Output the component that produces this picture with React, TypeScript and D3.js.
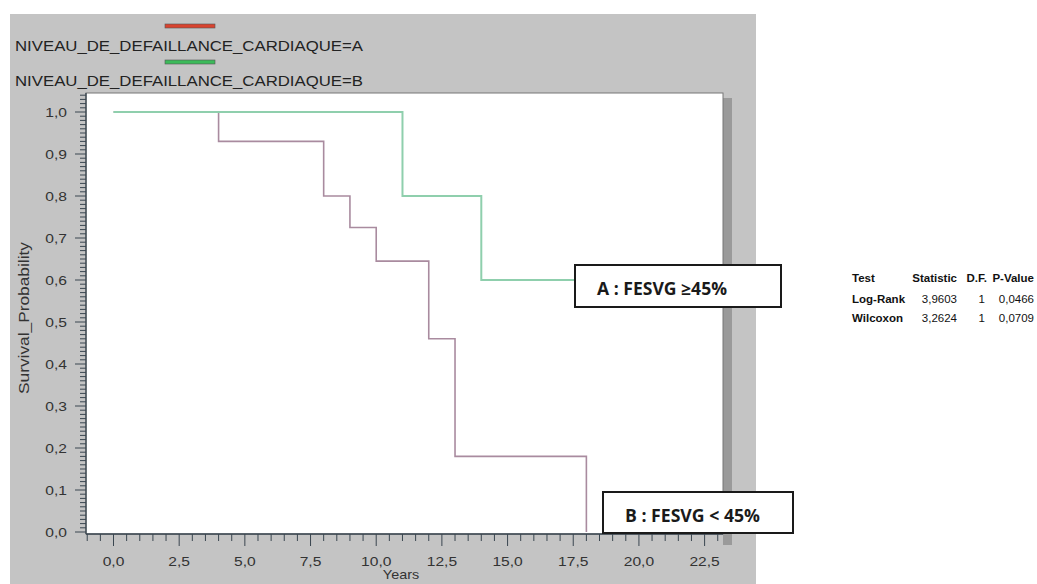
import React from 'react';
import * as d3 from 'd3';

// survival curves (time in years, probability)
const timesA = [0, 4, 8, 9, 10, 12, 13, 18, 18];
const survA = [1.0, 0.93, 0.8, 0.725, 0.645, 0.46, 0.18, 0.0, 0.0];
const timesB = [0, 11, 14, 18];
const survB = [1.0, 0.8, 0.6, 0.6];

const xTickLabels = ['0,0', '2,5', '5,0', '7,5', '10,0', '12,5', '15,0', '17,5', '20,0', '22,5'];
const yTickLabels = ['0,0', '0,1', '0,2', '0,3', '0,4', '0,5', '0,6', '0,7', '0,8', '0,9', '1,0'];

const legendLabels = ['NIVEAU_DE_DEFAILLANCE_CARDIAQUE=A', 'NIVEAU_DE_DEFAILLANCE_CARDIAQUE=B'];
const legendColors = ['#d8432f', '#3cba5a'];

const statHeader = ['Test', 'Statistic', 'D.F.', 'P-Value'];
const statTests = ['Log-Rank', 'Wilcoxon'];
const statValues = ['3,9603', '3,2624'];
const statDf = ['1', '1'];
const statP = ['0,0466', '0,0709'];

export default function App() {
  const width = 1037;
  const height = 584;
  const plot = { left: 86, right: 723, top: 93, bottom: 534 };

  const x = d3.scaleLinear().domain([0, 22.5]).range([113.5, 704.6]);
  const y = d3.scaleLinear().domain([0, 1]).range([532, 112]);

  const line = d3
    .line<[number, number]>()
    .x((d) => x(d[0]))
    .y((d) => y(d[1]))
    .curve(d3.curveStepAfter);

  const ptsA = timesA.map((t, i) => [t, survA[i]] as [number, number]);
  const ptsB = timesB.map((t, i) => [t, survB[i]] as [number, number]);

  const xMinor = d3.range(-2, 47).map((k) => k * 0.5);
  const yMinor = d3.range(0, 105).map((k) => k / 100);

  const font = '"Liberation Sans", Arial, sans-serif';
  const axisColor = '#3a4650';

  return (
    <svg width={width} height={height} style={{ position: 'absolute', left: 0, top: 0 }}>
      <rect x={0} y={0} width={width} height={height} fill="#fff" />
      {/* gray SAS background */}
      <rect x={10} y={14} width={746} height={height - 14} fill="#c4c4c4" />
      {/* plot shadow */}
      <rect x={plot.right} y={plot.top + 5} width={9} height={plot.bottom - plot.top + 6} fill="#9a9a9a" />
      <rect x={plot.left} y={plot.top} width={plot.right - plot.left} height={plot.bottom - plot.top} fill="#fff" stroke="#777" strokeWidth={1} />

      {/* legend */}
      {legendLabels.map((lab, i) => (
        <g key={lab}>
          <rect x={165} y={24 + i * 36} width={50} height={4} fill={legendColors[i]} stroke="#555" strokeWidth={0.6} />
          <text x={15} y={51 + i * 35} fontFamily={font} fontSize={14} fill="#222" textLength={348} lengthAdjust="spacingAndGlyphs">
            {lab}
          </text>
        </g>
      ))}

      {/* curves */}
      <path d={line(ptsA) || ''} fill="none" stroke="#a98b9f" strokeWidth={1.6} />
      <path d={line(ptsB) || ''} fill="none" stroke="#8fcfad" strokeWidth={2} />

      {/* y axis */}
      <line x1={plot.left} x2={plot.left} y1={plot.top} y2={plot.bottom} stroke={axisColor} strokeWidth={1.3} />
      {yMinor.map((v, i) => (
        <line key={'ym' + i} x1={plot.left - (i % 10 === 0 ? 11 : 6)} x2={plot.left} y1={y(v)} y2={y(v)} stroke={axisColor} strokeWidth={1} />
      ))}
      {yTickLabels.map((lab, i) => (
        <text key={'yl' + i} transform={`translate(67,${y(i / 10) + 5}) scale(1.2,1)`} textAnchor="end" fontFamily={font} fontSize={13} fill="#333">
          {lab}
        </text>
      ))}
      <text transform="translate(29,318) rotate(-90)" textAnchor="middle" fontFamily={font} fontSize={14} fill="#333" textLength={152} lengthAdjust="spacingAndGlyphs">
        Survival_Probability
      </text>

      {/* x axis */}
      <line x1={plot.left} x2={plot.right} y1={plot.bottom} y2={plot.bottom} stroke={axisColor} strokeWidth={1.3} />
      {xMinor.map((v, i) => (
        <line key={'xm' + i} x1={x(v)} x2={x(v)} y1={plot.bottom} y2={plot.bottom + (Math.abs(v % 2.5) < 1e-9 ? 12 : 7)} stroke={axisColor} strokeWidth={1} />
      ))}
      {xTickLabels.map((lab, i) => (
        <text key={'xl' + i} transform={`translate(${x(i * 2.5)},566) scale(1.2,1)`} textAnchor="middle" fontFamily={font} fontSize={13} fill="#333">
          {lab}
        </text>
      ))}
      <text transform="translate(401,579) scale(1.2,1)" textAnchor="middle" fontFamily={font} fontSize={12} fill="#333">
        Years
      </text>

      {/* annotation boxes */}
      <rect x={575} y={265} width={206} height={42} fill="#fff" stroke="#1a1a1a" strokeWidth={2} />
      <text x={597} y={295} fontFamily='"Open Sans", sans-serif' fontWeight="bold" fontSize={17} fill="#1a1a1a" textLength={130} lengthAdjust="spacingAndGlyphs">
        A : FESVG ≥45%
      </text>
      <rect x={603} y={492} width={190} height={41} fill="#fff" stroke="#1a1a1a" strokeWidth={2} />
      <text x={625} y={522} fontFamily='"Open Sans", sans-serif' fontWeight="bold" fontSize={17} fill="#1a1a1a" textLength={135} lengthAdjust="spacingAndGlyphs">
        B : FESVG &lt; 45%
      </text>

      {/* statistics table */}
      <g fontFamily={font} fontSize={11.5} fill="#111">
        <text x={852} y={282} fontWeight="bold">{statHeader[0]}</text>
        <text x={957} y={282} fontWeight="bold" textAnchor="end">{statHeader[1]}</text>
        <text x={987} y={282} fontWeight="bold" textAnchor="end">{statHeader[2]}</text>
        <text x={1034} y={282} fontWeight="bold" textAnchor="end">{statHeader[3]}</text>
        {statTests.map((t, i) => (
          <g key={t}>
            <text x={852} y={303 + i * 19} fontWeight="bold">{t}</text>
            <text x={957} y={303 + i * 19} textAnchor="end">{statValues[i]}</text>
            <text x={985} y={303 + i * 19} textAnchor="end">{statDf[i]}</text>
            <text x={1034} y={303 + i * 19} textAnchor="end">{statP[i]}</text>
          </g>
        ))}
      </g>
    </svg>
  );
}
